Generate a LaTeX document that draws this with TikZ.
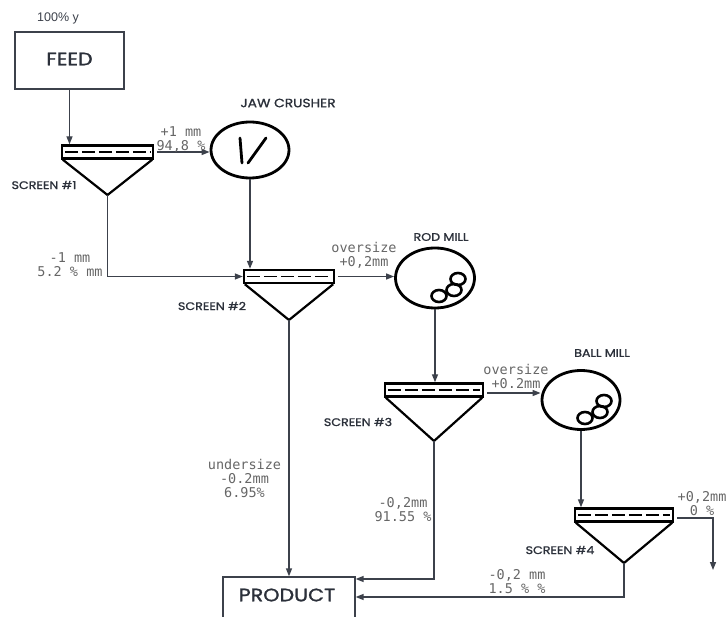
\documentclass[tikz,border=0pt]{standalone}
\usepackage{fontspec}
\setmainfont{Liberation Sans}
\newfontfamily\monof{DejaVu Sans Mono}
\newfontfamily\comicf[FakeStretch=1.15,FakeBold=1.3]{Poppins}
\usetikzlibrary{shapes.geometric,arrows.meta}
\definecolor{ln}{HTML}{3C414B}
\definecolor{lbl}{HTML}{666666}
\definecolor{ink}{HTML}{2B303A}
\tikzset{
 flow/.style={draw=ln, line width=1.4pt, -{Triangle[length=8pt,width=6pt]}},
 lab/.style={font=\monof\fontsize{13.5}{14}\selectfont, text=lbl, align=center, inner sep=0pt},
 ttl/.style={font=\comicf\fontsize{11}{13}\selectfont, text=ink, inner sep=0pt},
 bigttl/.style={font=\comicf\fontsize{18}{20}\selectfont, text=ink, inner sep=0pt},
 boxn/.style={draw=ln, line width=1.3pt, rectangle, inner sep=0pt},
 mill/.style={draw=black, ellipse, line width=2.8pt, inner sep=0pt},
 scr/.style={draw=black, line width=2.4pt, rectangle, minimum height=13pt, inner sep=0pt},
 scrline/.style={draw=black, line width=2.2pt, line join=round},
 ballc/.style={draw=black, line width=2.6pt},
}
\newcommand\screenat[5]{%
 \node[scr, minimum width=#4pt] (#1) at (#2,#3) {};
 \coordinate (#1a) at (#2,#5);
 \draw[scrline] ([xshift=2pt]#1.south west) -- (#1a) -- ([xshift=-2pt]#1.south east);
 \draw[black, line width=1.6pt, dash pattern=on 13pt off 4pt] ([xshift=4pt]#1.west) -- ([xshift=-4pt]#1.east);
}
\newcommand\ballsin[1]{%
 \draw[ballc] ([shift={(23,1)}]#1.center) ellipse [x radius=7.5pt, y radius=6pt];
 \draw[ballc] ([shift={(19,12)}]#1.center) ellipse [x radius=7.5pt, y radius=6pt];
 \draw[ballc] ([shift={(4,18)}]#1.center) ellipse [x radius=7.5pt, y radius=6pt];
}
\begin{document}
\begin{tikzpicture}[x=1pt,y=-1pt]
\useasboundingbox (0,0) rectangle (726,617);
% boxes
\node[boxn, minimum width=109pt, minimum height=57pt] (feed) at (69.5,60.5) {};
\node[bigttl] (feedt) at (69.5,59) {FEED};
\node[font=\fontsize{12.5}{14}\selectfont, text=ln, inner sep=0pt] (pct) at (58,18) {100\% y};
\node[boxn, minimum width=132pt, minimum height=48pt] (prod) at (289,601) {};
\node[bigttl] (prodt) at (287,595) {PRODUCT};
% mills
\node[mill, minimum width=78pt, minimum height=56pt] (jaw) at (250,150) {};
\node[mill, minimum width=79pt, minimum height=60pt] (rod) at (435,278) {};
\node[mill, minimum width=78pt, minimum height=59pt] (ball) at (581,400) {};
\draw[black, line width=2.8pt, line cap=round] ([shift={(-10,-12)}]jaw.center) -- ([shift={(-8,13)}]jaw.center);
\draw[black, line width=2.8pt, line cap=round] ([shift={(16,-12)}]jaw.center) -- ([shift={(-2,13)}]jaw.center);
\ballsin{rod}
\ballsin{ball}
\node[ttl, font=\comicf\fontsize{12}{14}\selectfont] (jawt) at (288,103) {JAW CRUSHER};
\node[ttl] (rodt) at (441,237) {ROD MILL};
\node[ttl] (ballt) at (602,353) {BALL MILL};
% screens
\screenat{s1}{107.5}{152}{91}{195}
\screenat{s2}{289}{276.5}{90}{320}
\screenat{s3}{434}{390}{98}{441}
\screenat{s4}{624}{515}{98}{563}
\node[ttl] (s1t) at (44,185) {SCREEN \#1};
\node[ttl] (s2t) at (212,306) {SCREEN \#2};
\node[ttl] (s3t) at (358,422) {SCREEN \#3};
\node[ttl] (s4t) at (560,550) {SCREEN \#4};
% connectors
\draw[flow] (feed.south) -- (feed.south |- s1.north);
\draw[flow] ([xshift=3pt]s1.east) -- (jaw.west |- s1.east);
\draw[flow] (s1a) -- (s1a |- s2.west) -- (s2.west);
\draw[flow] (jaw.south) -- (jaw.south |- s2.north);
\draw[flow] ([xshift=3pt]s2.east) -- (s2.east -| rod.west);
\draw[flow] (rod.south) -- (rod.south |- s3.north);
\draw[flow] ([xshift=3pt,yshift=-3pt]s3.east) -- ([yshift=-3pt]s3.east -| ball.west);
\draw[flow] (ball.south) -- (ball.south |- s4.north);
\coordinate (waste) at (713,570);
\draw[flow] ([xshift=3pt,yshift=-3pt]s4.east) -| (waste);
\draw[flow] (s2a) -- (s2a |- prod.north);
\draw[flow] (s3a) |- ([yshift=22pt]prod.east);
\draw[flow] (s4a) |- ([yshift=4pt]prod.east);
% labels
\node[lab] (l1) at (181,139.5) {+1 mm\\94,8 \%};
\node[lab] (l2) at (70,265) {-1 mm\\5.2 \% mm};
\node[lab] (l3) at (364,255.5) {oversize\\+0,2mm};
\node[lab] (l4) at (516,376) {oversize\\+0.2mm};
\node[lab] (l5) at (244.5,478) {undersize\\-0.2mm\\6.95\%};
\node[lab] (l6) at (403,509.5) {-0,2mm\\91.55 \%};
\node[lab] (l7) at (517,581.5) {-0,2 mm\\1.5 \% \%};
\node[lab] (l8) at (702,503.5) {+0,2mm\\0 \%};
\end{tikzpicture}
\end{document}
